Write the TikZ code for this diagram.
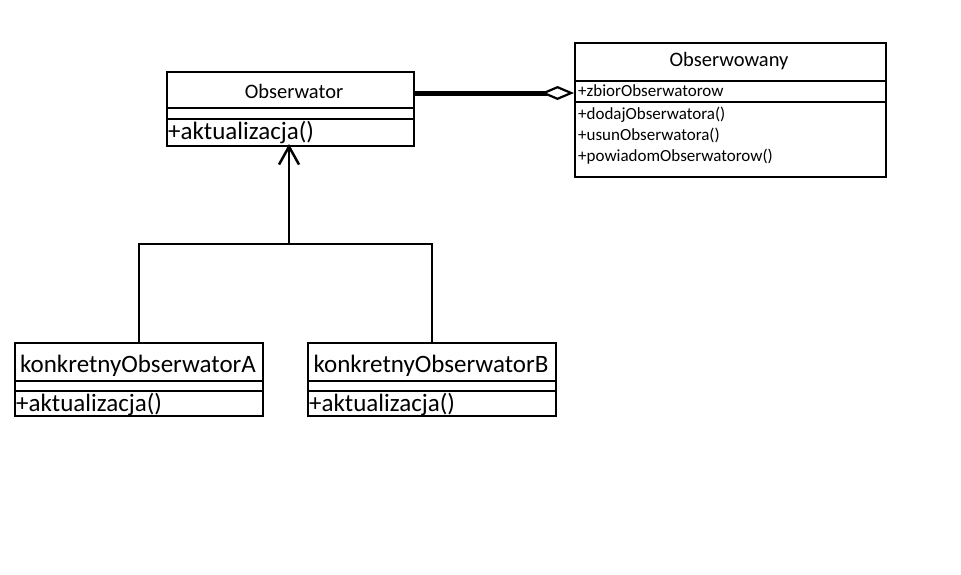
\documentclass[tikz,border=0pt]{standalone}
\usepackage{fontspec}
\setmainfont{Carlito}
\usetikzlibrary{arrows.meta}
\begin{document}
\begin{tikzpicture}[x=1pt,y=-1pt,
  part/.style={draw, line width=2pt, inner sep=0pt, anchor=north west},
  label/.style={inner sep=0pt, anchor=base west},
  title/.style={inner sep=0pt, anchor=base},
  big/.style={font=\fontsize{25}{30}\selectfont},
  mid/.style={font=\fontsize{20.5}{24}\selectfont},
  small/.style={font=\fontsize{17}{20}\selectfont},
  link/.style={line width=2.5pt}]
\useasboundingbox (0,0) rectangle (961,574);

% class Obserwator
\node[part, minimum width=247pt, minimum height=36pt] (obsT) at (166,71) {};
\node[part, minimum width=247pt, minimum height=11pt] (obsA) at (166,107) {};
\node[part, minimum width=247pt, minimum height=27pt] (obsM) at (166,118) {};
\node[title, mid] (obsName) at (294,98) {Obserwator};
\node[label, big] (obsOp) at (168,139) {+aktualizacja()};

% class Obserwowany
\node[part, minimum width=311pt, minimum height=38pt] (subT) at (574,42) {};
\node[part, minimum width=311pt, minimum height=21pt] (subA) at (574,80) {};
\node[part, minimum width=311pt, minimum height=75pt] (subM) at (574,101) {};
\node[title, mid] (subName) at (729,66) {Obserwowany};
\node[label, small] (subAttr) at (578,96) {+zbiorObserwatorow};
\node[label, small] (subOp1) at (578,119) {+dodajObserwatora()};
\node[label, small] (subOp2) at (578,140) {+usunObserwatora()};
\node[label, small] (subOp3) at (578,161) {+powiadomObserwatorow()};

% class konkretnyObserwatorA
\node[part, minimum width=248pt, minimum height=38pt] (aT) at (14,342) {};
\node[part, minimum width=248pt, minimum height=10pt] (aA) at (14,380) {};
\node[part, minimum width=248pt, minimum height=25pt] (aM) at (14,390) {};
\node[title, big] (aName) at (138,372) {konkretnyObserwatorA};
\node[label, big] (aOp) at (16,411) {+aktualizacja()};

% class konkretnyObserwatorB
\node[part, minimum width=248pt, minimum height=38pt] (bT) at (307,342) {};
\node[part, minimum width=248pt, minimum height=10pt] (bA) at (307,380) {};
\node[part, minimum width=248pt, minimum height=25pt] (bM) at (307,390) {};
\node[title, big] (bName) at (431,372) {konkretnyObserwatorB};
\node[label, big] (bOp) at (309,411) {+aktualizacja()};

% aggregation
\coordinate (aggL) at (obsT.east |- 0,93);
\coordinate (aggR) at (subA.west |- 0,93);
\draw[line width=5pt, -{Diamond[open, length=33pt, width=14pt, line width=2.2pt]}] (aggL) -- (aggR);

% generalisation
\coordinate (joint) at (289,244);
\draw[link] (aT.north) |- (joint) -| (bT.north);
\draw[link, -{Straight Barb[length=18pt, width=20pt, line width=2.5pt]}] (joint) -- ([yshift=3pt]obsM.south -| joint);
\end{tikzpicture}
\end{document}
